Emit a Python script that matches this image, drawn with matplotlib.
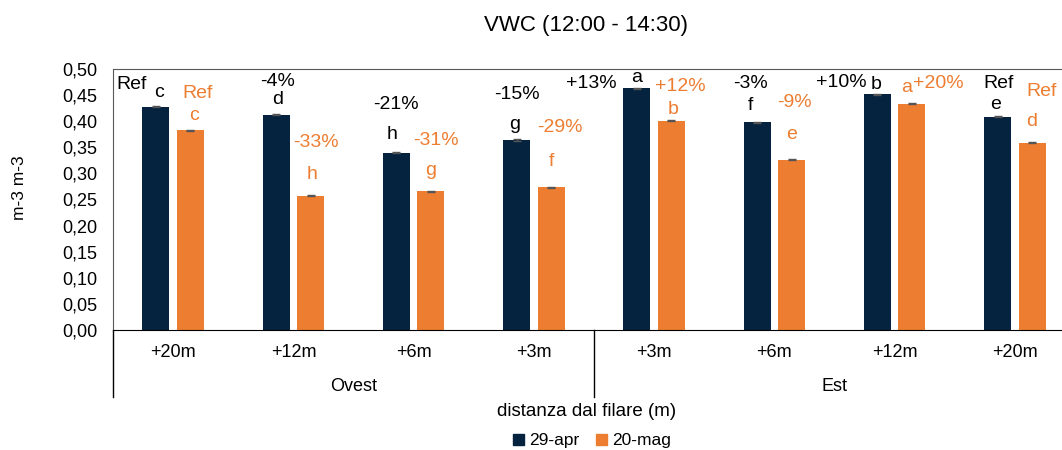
import numpy as np
import matplotlib
matplotlib.use("Agg")
import matplotlib.pyplot as plt
from matplotlib.patches import Patch
from matplotlib.ticker import FuncFormatter

plt.rcParams['font.family'] = ['Liberation Sans', 'DejaVu Sans']

# data
positions = ["+20m", "+12m", "+6m", "+3m", "+3m", "+6m", "+12m", "+20m"]
sides = ["Ovest", "Est"]
series_names = ["29-apr", "20-mag"]
vwc_apr = [0.428, 0.412, 0.340, 0.364, 0.463, 0.398, 0.452, 0.409]
vwc_mag = [0.383, 0.257, 0.266, 0.273, 0.401, 0.326, 0.433, 0.359]
err_apr = [0.001] * 8
err_mag = [0.001] * 8
letters_apr = ["c", "d", "h", "g", "a", "f", "b", "e"]
letters_mag = ["c", "h", "g", "f", "b", "e", "a", "d"]
pct_apr = ["Ref", "-4%", "-21%", "-15%", "+13%", "-3%", "+10%", "Ref"]
pct_mag = ["Ref", "-33%", "-31%", "-29%", "+12%", "-9%", "+20%", "Ref"]

# label offsets (pixels from bar top), hand placed like the original
off_letter_apr = [(3, 14), (1, 15), (-4, 18), (-2, 15), (0, 11), (-7, 17), (-1, 10), (-2, 12)]
off_letter_mag = [(4, 15), (1, 21), (0, 21), (0, 26), (2, 11), (0, 25), (-5, 16), (0, 21)]
off_pct_apr = [(-24, 22), (1, 33), (0, 48), (0, 45), (-46, 5), (-7, 39), (-36, 12), (1, 33)]
off_pct_mag = [(7, 37), (5, 53), (5, 51), (9, 60), (9, 34), (3, 57), (26, 20), (9, 51)]

navy = '#05233f'
orange = '#ED7D31'

fig = plt.figure(figsize=(10.62, 4.5), dpi=100)
ax = fig.add_axes([113 / 1062, 1 - 330 / 450, 962 / 1062, 261 / 450])

x = np.arange(len(positions))
w = 0.224
d = 0.143
ax.bar(x - d, vwc_apr, w, color=navy)
ax.bar(x + d, vwc_mag, w, color=orange)
ax.errorbar(x - d, vwc_apr, yerr=err_apr, fmt='none', ecolor='#555555', capsize=3, elinewidth=1)
ax.errorbar(x + d, vwc_mag, yerr=err_mag, fmt='none', ecolor='#555555', capsize=3, elinewidth=1)

def put(xs, ys, texts, offs, color):
    for xi, yi, t, (dx, dy) in zip(xs, ys, texts, offs):
        ax.annotate(t, (xi, yi), xytext=(dx, dy), textcoords='offset pixels',
                    ha='center', va='center', fontsize=14, color=color,
                    annotation_clip=False)

put(x - d, vwc_apr, letters_apr, off_letter_apr, 'black')
put(x - d, vwc_apr, pct_apr, off_pct_apr, 'black')
put(x + d, vwc_mag, letters_mag, off_letter_mag, orange)
put(x + d, vwc_mag, pct_mag, off_pct_mag, orange)

ax.set_xlim(-0.5, 7.5)
ax.set_ylim(0, 0.5)
ax.set_yticks(np.arange(0, 0.501, 0.05))
ax.yaxis.set_major_formatter(FuncFormatter(lambda v, p: f"{v:.2f}".replace('.', ',')))
ax.set_xticks(x)
ax.set_xticklabels(positions)
ax.tick_params(axis='both', length=0)
ax.tick_params(axis='y', pad=11.5, labelsize=13)
ax.tick_params(axis='x', pad=10, labelsize=13)

for s in ['top', 'left', 'right']:
    ax.spines[s].set_color('#595959')
ax.spines['bottom'].set_color('black')

# group separators and group labels
tr = ax.get_xaxis_transform()
for xs in [-0.5, 3.5, 7.5]:
    ax.plot([xs, xs], [0, -0.257], color='black', lw=1, transform=tr, clip_on=False)
ax.text(1.5, -0.2146, sides[0], transform=tr, ha='center', va='center', fontsize=13)
ax.text(5.5, -0.2146, sides[1], transform=tr, ha='center', va='center', fontsize=13)

fig.text(586 / 1062, 1 - 26 / 450, "VWC (12:00 - 14:30)", ha='center', va='center', fontsize=16)
fig.text(20 / 1062, 1 - 188 / 450, "m-3 m-3", rotation=90, ha='center', va='center', fontsize=12.5)
fig.text(587 / 1062, 1 - 411 / 450, "distanza dal filare (m)", ha='center', va='center', fontsize=13.5)

handles = [Patch(color=navy, label=series_names[0]), Patch(color=orange, label=series_names[1])]
fig.legend(handles=handles, loc='center', bbox_to_anchor=(592 / 1062, 1 - 441 / 450), ncol=2,
           frameon=False, fontsize=12.5, handlelength=0.6, handleheight=0.6,
           handletextpad=0.3, columnspacing=1.0)

fig.savefig("out.png", dpi=100)
